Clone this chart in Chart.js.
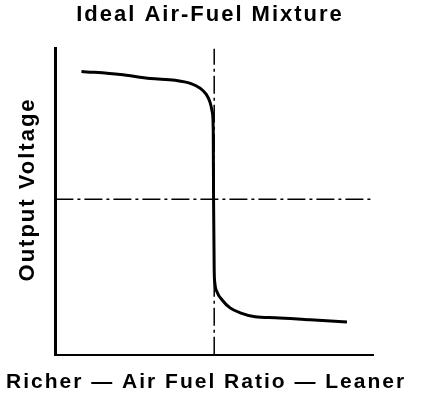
<!DOCTYPE html>
<html>
<head>
<meta charset="utf-8">
<title>Ideal Air-Fuel Mixture</title>
<script src="https://cdn.jsdelivr.net/npm/chart.js@4.4.0/dist/chart.umd.min.js"></script>
<style>
  html, body { margin: 0; padding: 0; background: #fff; }
  #wrap { width: 432px; height: 398px; }
</style>
</head>
<body>
<div id="wrap"><canvas id="sensorChart" width="432" height="398"></canvas></div>
<script>
// curve (x = air fuel ratio, y = output voltage, arbitrary units 0-100)
const ratioX = [8.2, 20.4, 29.9, 37.7, 42.5, 45.6, 47.5, 48.7, 49.4, 49.7, 49.8, 50.0, 50.2, 50.9, 52.5, 55.0, 58.2, 62.9, 69.2, 80.2, 91.8];
const voltageY = [92.5, 91.5, 90.2, 89.6, 88.6, 87.0, 85.0, 82.4, 79.2, 73.3, 50.5, 27.7, 23.5, 20.5, 17.9, 15.3, 13.7, 12.4, 12.1, 11.4, 10.7];

// dash-dot reference lines
const idealRatio = 50;
const midVoltage = 50.8;
const axisMin = 0;
const axisMax = 100;

const titleText = 'Ideal Air-Fuel Mixture';
const xTitle = 'Richer — Air Fuel Ratio — Leaner ';
const yTitle = '   Output Voltage';

const curve = ratioX.map((x, i) => ({ x: x, y: voltageY[i] }));

// letter spacing like the printed figure
const spacing = {
  id: 'spacing',
  beforeLayout(chart) { chart.ctx.letterSpacing = '2px'; },
  beforeDraw(chart) { chart.ctx.letterSpacing = '2px'; }
};

const ctx = document.getElementById('sensorChart').getContext('2d');
const chart = new Chart(ctx, {
  type: 'line',
  data: {
    datasets: [
      {
        data: curve,
        borderColor: '#000',
        borderWidth: 3,
        pointRadius: 0,
        cubicInterpolationMode: 'monotone',
        fill: false
      },
      {
        data: [{ x: idealRatio, y: axisMin }, { x: idealRatio, y: axisMax }],
        borderColor: '#000',
        borderWidth: 1.5,
        borderDash: [18, 4, 3, 4],
        pointRadius: 0,
        tension: 0
      },
      {
        data: [{ x: axisMin, y: midVoltage }, { x: axisMax, y: midVoltage }],
        borderColor: '#000',
        borderWidth: 1.5,
        borderDash: [18, 4, 3, 4],
        pointRadius: 0,
        tension: 0
      }
    ]
  },
  plugins: [spacing],
  options: {
    responsive: false,
    animation: false,
    layout: { padding: { left: 0, right: 12, top: 0, bottom: 0 } },
    plugins: {
      legend: { display: false },
      tooltip: { enabled: false },
      title: {
        display: true,
        text: titleText,
        color: '#000',
        font: { family: 'Liberation Sans', size: 22, weight: 'bold' },
        padding: { top: 2, bottom: 20 }
      },
      // x axis label, as a bottom subtitle so it may run wider than the plot
      subtitle: {
        display: true,
        position: 'bottom',
        text: xTitle,
        color: '#000',
        font: { family: 'Liberation Sans', size: 21, weight: 'bold' },
        padding: { top: 15, bottom: 3 }
      }
    },
    scales: {
      x: {
        type: 'linear',
        min: axisMin,
        max: axisMax,
        grid: { display: false, drawTicks: false },
        ticks: { display: false },
        border: { display: true, color: '#000', width: 2 }
      },
      y: {
        type: 'linear',
        min: axisMin,
        max: axisMax,
        grid: { display: false, drawTicks: false },
        ticks: { display: false },
        border: { display: true, color: '#000', width: 3 },
        title: {
          display: true,
          text: yTitle,
          color: '#000',
          font: { family: 'Liberation Sans', size: 22, weight: 'bold' },
          padding: { top: 15, bottom: 14 }
        }
      },
      // empty right-hand box, keeps the blank margin right of the plot
      yRight: {
        position: 'right',
        display: true,
        grid: { display: false, drawTicks: false },
        ticks: { display: false },
        border: { display: false },
        afterFit(scale) { scale.width = 47; }
      }
    }
  }
});
</script>
</body>
</html>
